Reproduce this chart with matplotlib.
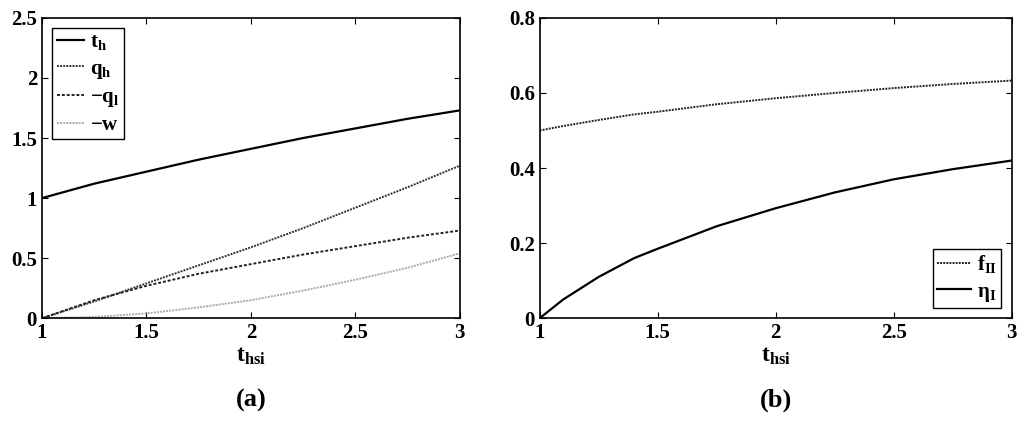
import matplotlib
matplotlib.use("Agg")
import matplotlib.pyplot as plt

x = [1, 1.25, 1.5, 1.75, 2, 2.25, 2.5, 2.75, 3]
t_h = [1, 1.12, 1.22, 1.32, 1.41, 1.50, 1.58, 1.66, 1.73]
q_h = [0, 0.14, 0.29, 0.44, 0.59, 0.75, 0.92, 1.09, 1.27]
neg_q_l = [0, 0.15, 0.27, 0.37, 0.45, 0.53, 0.60, 0.67, 0.73]
neg_w = [0, 0.01, 0.04, 0.09, 0.15, 0.23, 0.32, 0.42, 0.54]
x_b = [1, 1.1, 1.25, 1.4, 1.5, 1.75, 2, 2.25, 2.5, 2.75, 3]
f_II = [0.5, 0.512, 0.528, 0.543, 0.55, 0.57, 0.586, 0.6, 0.613, 0.624, 0.633]
eta_I = [0, 0.05, 0.11, 0.16, 0.185, 0.245, 0.293, 0.335, 0.37, 0.397, 0.42]

plt.rcParams['font.family'] = ['Liberation Serif', 'DejaVu Serif']
plt.rcParams['font.weight'] = 'bold'
plt.rcParams['mathtext.fontset'] = 'custom'
plt.rcParams['mathtext.rm'] = 'Liberation Serif:bold'
plt.rcParams['mathtext.it'] = 'Liberation Serif:bold'
plt.rcParams['mathtext.bf'] = 'Liberation Serif:bold'

fig = plt.figure(figsize=(10.24, 4.26), dpi=100)
ax1 = fig.add_axes([0.041, 0.253, 0.408, 0.705])
ax2 = fig.add_axes([0.527, 0.253, 0.461, 0.705])

ax1.plot(x, t_h, color='black', lw=1.6, label=r'$\mathrm{t_h}$')
ax1.plot(x, q_h, color='#333333', lw=1.4, ls=(0, (1, 0.6)), label=r'$\mathrm{q_h}$')
ax1.plot(x, neg_q_l, color='#222222', lw=1.4, ls=(0, (1.5, 1)), label=r'$\mathrm{-q_l}$')
ax1.plot(x, neg_w, color='#aaaaaa', lw=1.4, ls=(0, (1, 0.6)), label=r'$\mathrm{-w}$')
ax1.set_xlim(1, 3); ax1.set_ylim(0, 2.5)
ax1.set_xticks([1, 1.5, 2, 2.5, 3]); ax1.set_xticklabels(['1', '1.5', '2', '2.5', '3'])
ax1.set_yticks([0, 0.5, 1, 1.5, 2, 2.5]); ax1.set_yticklabels(['0', '0.5', '1', '1.5', '2', '2.5'])
ax1.legend(loc='upper left', fontsize=15, handlelength=1.3, handletextpad=0.3, borderpad=0.2,
           labelspacing=0.3, fancybox=False, edgecolor='black', framealpha=1)

ax2.plot(x_b, f_II, color='#222222', lw=1.4, ls=(0, (1, 0.6)), label=r'$\mathrm{f_{II}}$')
ax2.plot(x_b, eta_I, color='black', lw=1.6, label=r'$\mathrm{\eta_I}$')
ax2.set_xlim(1, 3); ax2.set_ylim(0, 0.8)
ax2.set_xticks([1, 1.5, 2, 2.5, 3]); ax2.set_xticklabels(['1', '1.5', '2', '2.5', '3'])
ax2.set_yticks([0, 0.2, 0.4, 0.6, 0.8]); ax2.set_yticklabels(['0', '0.2', '0.4', '0.6', '0.8'])
ax2.legend(loc='lower right', fontsize=15, handlelength=1.6, handletextpad=0.3, borderpad=0.2,
           labelspacing=0.3, fancybox=False, edgecolor='black', framealpha=1)

for ax, lab in ((ax1, '(a)'), (ax2, '(b)')):
    ax.tick_params(labelsize=15, direction='in', length=4, top=True, right=True)
    ax.set_xlabel(r'$\mathrm{t_{hsi}}$', fontsize=17, labelpad=2)
    for s in ax.spines.values():
        s.set_linewidth(1.2)
    ax.text(0.5, -0.235, lab, transform=ax.transAxes, ha='center', va='top', fontsize=19, fontweight='bold')

fig.savefig('out.png', dpi=100)
